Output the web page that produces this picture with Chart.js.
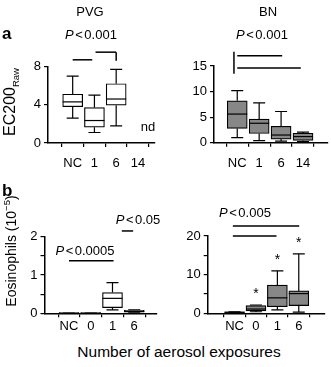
<!DOCTYPE html>
<html>
<head>
<meta charset="utf-8">
<script src="https://cdn.jsdelivr.net/npm/chart.js@4.4.1/dist/chart.umd.min.js"></script>
<style>
  body { margin: 0; background: #fff; font-family: Arial, "Liberation Sans", sans-serif; }
  #wrap { position: relative; width: 331px; height: 367px; overflow: hidden; }
  canvas { position: absolute; }
  .t { position: absolute; white-space: nowrap; transform: translate(-50%, -50%); color: #000; font-size: 13px; line-height: 1; }
  .rot { transform: translate(-50%, -50%) rotate(-90deg); }
  .lt { font-weight: bold; font-size: 17px; transform: none; }
  .lt2 { margin: 0 1.5px; }
  sub, sup { font-size: 9.5px; }
</style>
</head>
<body>
<div id="wrap">
  <canvas id="pvg" width="165" height="175" style="left:0;top:0"></canvas>
  <canvas id="bn" width="166" height="175" style="left:165px;top:0"></canvas>
  <canvas id="eosL" width="165" height="165" style="left:0;top:175px"></canvas>
  <canvas id="eosR" width="166" height="165" style="left:165px;top:175px"></canvas>

  <div class="t" style="left:90px;top:11px">PVG</div>
  <div class="t" style="left:268px;top:11px">BN</div>
  <div class="t lt" style="left:2px;top:25px">a</div>
  <div class="t lt" style="left:2px;top:182px">b</div>
  <div class="t" style="left:91px;top:34px"><i>P</i><span class="lt2">&lt;</span>0.001</div>
  <div class="t" style="left:262px;top:34px"><i>P</i><span class="lt2">&lt;</span>0.001</div>
  <div class="t" style="left:148px;top:126px">nd</div>
  <div class="t rot" style="left:11px;top:102px;font-size:16px">EC200<sub>Raw</sub></div>
  <div class="t rot" style="left:10px;top:251px;font-size:14px">Eosinophils (10<sup>&minus;5</sup>)</div>
  <div class="t" style="left:85px;top:250px"><i>P</i><span class="lt2">&lt;</span>0.0005</div>
  <div class="t" style="left:138px;top:219px"><i>P</i><span class="lt2">&lt;</span>0.05</div>
  <div class="t" style="left:245px;top:212px"><i>P</i><span class="lt2">&lt;</span>0.005</div>
  <div class="t" style="left:179px;top:352px;font-size:15.5px">Number of aerosol exposures</div>
</div>

<script>
/**************** DATA ****************/
const catsA = ["NC", "1", "6", "14"];
const catsB = ["NC", "0", "1", "6"];

// PVG, EC200 raw (14 exposures: nd)
const pvgMin = [2.6, 1.1, 1.8, null];
const pvgQ1  = [3.8, 1.65, 3.95, null];
const pvgMed = [4.3, 2.35, 4.6, null];
const pvgQ3  = [5.1, 3.7, 6.2, null];
const pvgMax = [7.0, 5.0, 7.7, null];

// BN, EC200 raw
const bnMin = [1.0, 0.4, 0.3, 0.2];
const bnQ1  = [2.8, 1.8, 0.7, 0.45];
const bnMed = [5.6, 3.8, 1.5, 1.2];
const bnQ3  = [8.2, 4.6, 3.2, 1.85];
const bnMax = [10.2, 7.8, 6.1, 2.05];

// PVG eosinophils (10^-5)
const eosLMin = [0, 0, 0.09, 0.01];
const eosLQ1  = [0, 0, 0.15, 0.03];
const eosLMed = [0.005, 0.005, 0.39, 0.05];
const eosLQ3  = [0.01, 0.01, 0.54, 0.08];
const eosLMax = [0.01, 0.015, 0.8, 0.09];

// BN eosinophils (10^-5)
const eosRMin = [0.1, 0.4, 0.9, 0.3];
const eosRQ1  = [0.2, 0.6, 1.7, 2.0];
const eosRMed = [0.25, 1.1, 4.0, 5.1];
const eosRQ3  = [0.35, 2.0, 7.3, 5.8];
const eosRMax = [0.4, 2.15, 11.0, 15.4];
const eosRStar = [null, 5.8, 14.6, 18.9];

// y ticks
const pvgTicks = [0, 4, 8];
const bnTicks = [0, 5, 10, 15];
const eosLTicks = [0, 0.5, 1, 1.5, 2];
const eosLLabels = [0, 1, 2];
const eosRTicks = [0, 5, 10, 15, 20];
const eosRLabels = [0, 10, 20];

// significance bars [x1, y1, x2, y2] in data units
const pvgSig = [[0, 8.7, 0.9, 8.7], [1.05, 9.5, 2, 9.5], [2, 9.5, 2, 8.6]];
const bnSig = [[0, 17, 2.05, 17], [0, 14.6, 2.9, 14.6], [-0.15, 17.8, -0.15, 13.5]];
const eosLSig = [[0, 1.37, 2.05, 1.37], [2.43, 2.15, 2.95, 2.15]];
const eosRSig = [[-0.08, 22.6, 3.02, 22.6], [-0.08, 20, 1.96, 20]];

/**************** HELPERS ****************/
function boxPlugin(st, sig, stars) {
  return {
    id: "boxExtras",
    beforeDatasetsDraw(chart) {
      const { ctx, scales: { x, y } } = chart;
      ctx.save();
      ctx.strokeStyle = "#000";
      ctx.lineWidth = 1.2;
      st.min.forEach((lo, i) => {
        if (lo == null) return;
        const px = x.getPixelForValue(i);
        [[st.q1[i], lo], [st.q3[i], st.max[i]]].forEach(([a, b]) => {
          const ya = y.getPixelForValue(a), yb = y.getPixelForValue(b);
          ctx.beginPath();
          ctx.moveTo(px, ya); ctx.lineTo(px, yb);
          ctx.moveTo(px - 6, yb); ctx.lineTo(px + 6, yb);
          ctx.stroke();
        });
      });
      ctx.restore();
    },
    afterDatasetsDraw(chart) {
      const { ctx, scales: { x, y } } = chart;
      ctx.save();
      ctx.strokeStyle = "#000";
      ctx.lineWidth = 1.2;
      st.med.forEach((m, i) => {
        if (m == null) return;
        const px = x.getPixelForValue(i), py = y.getPixelForValue(m);
        ctx.beginPath();
        ctx.moveTo(px - 10, py); ctx.lineTo(px + 10, py);
        ctx.stroke();
      });
      ctx.lineWidth = 1.5;
      sig.forEach(([x1, y1, x2, y2]) => {
        ctx.beginPath();
        ctx.moveTo(x.getPixelForValue(x1), y.getPixelForValue(y1));
        ctx.lineTo(x.getPixelForValue(x2), y.getPixelForValue(y2));
        ctx.stroke();
      });
      if (stars) {
        ctx.fillStyle = "#000";
        ctx.font = "14px Arial";
        ctx.textAlign = "center";
        ctx.textBaseline = "middle";
        stars.forEach((s, i) => {
          if (s == null) return;
          ctx.fillText("*", x.getPixelForValue(i), y.getPixelForValue(s) + 3);
        });
      }
      ctx.restore();
    }
  };
}

function makeBox(id, cfg) {
  const { cats, st, fill, yMax, yTicks, yLabels, xMin, xMax, yW, xH, pad, tickPad, sig, stars } = cfg;
  const data = [];
  cats.forEach((c, i) => {
    if (st.q1[i] == null) return;
    data.push({ x: i, y: [st.q1[i], st.q3[i]] });
  });
  const zeroPad = s => { s.paddingLeft = s.paddingRight = s.paddingTop = s.paddingBottom = 0; };
  return new Chart(document.getElementById(id), {
    type: "bar",
    data: {
      datasets: [{
        data,
        backgroundColor: fill,
        borderColor: "#000",
        borderWidth: 1.2,
        borderSkipped: false,
        barThickness: 20
      }]
    },
    options: {
      responsive: false,
      animation: false,
      devicePixelRatio: 1,
      layout: { padding: pad },
      plugins: { legend: { display: false }, tooltip: { enabled: false } },
      scales: {
        x: {
          type: "linear",
          min: xMin,
          max: xMax,
          afterBuildTicks: s => { s.ticks = cats.map((c, i) => ({ value: i })); },
          afterFit: s => { s.height = xH; zeroPad(s); },
          grid: { drawOnChartArea: false, drawTicks: true, tickLength: 4, color: "#000", lineWidth: 1.2 },
          border: { color: "#000", width: 1.5 },
          ticks: {
            callback: v => cats[v],
            color: "#000",
            font: { family: "Arial", size: 13 },
            padding: tickPad,
            maxRotation: 0,
            autoSkip: false
          }
        },
        y: {
          min: 0,
          max: yMax,
          afterBuildTicks: s => { s.ticks = yTicks.map(v => ({ value: v })); },
          afterFit: s => { s.width = yW; zeroPad(s); },
          grid: { drawOnChartArea: false, drawTicks: true, tickLength: 4, color: "#000", lineWidth: 1.2 },
          border: { color: "#000", width: 1.5 },
          ticks: {
            callback: v => (!yLabels || yLabels.includes(v)) ? String(v) : "",
            color: "#000",
            font: { family: "Arial", size: 13 },
            padding: 3,
            autoSkip: false
          }
        }
      }
    },
    plugins: [boxPlugin(st, sig, stars)]
  });
}

/**************** CHARTS ****************/
makeBox("pvg", {
  cats: catsA,
  st: { min: pvgMin, q1: pvgQ1, med: pvgMed, q3: pvgQ3, max: pvgMax },
  fill: "#fff", yMax: 8, yTicks: pvgTicks,
  xMin: -0.52, xMax: 3.17, yW: 48, xH: 32, tickPad: 9,
  pad: { left: 0, top: 66.5, right: 10, bottom: 0 },
  sig: pvgSig
});

makeBox("bn", {
  cats: catsA,
  st: { min: bnMin, q1: bnQ1, med: bnMed, q3: bnQ3, max: bnMax },
  fill: "#878787", yMax: 15, yTicks: bnTicks,
  xMin: -0.41, xMax: 3.49, yW: 49, xH: 32.3, tickPad: 9,
  pad: { left: 0, top: 66, right: 3, bottom: 0 },
  sig: bnSig
});

makeBox("eosL", {
  cats: catsB,
  st: { min: eosLMin, q1: eosLQ1, med: eosLMed, q3: eosLQ3, max: eosLMax },
  fill: "#fff", yMax: 2, yTicks: eosLTicks, yLabels: eosLLabels,
  xMin: -0.48, xMax: 3.4, yW: 44.5, xH: 26.7, tickPad: 1,
  pad: { left: 0, top: 61.7, right: 8, bottom: 0 },
  sig: eosLSig
});

makeBox("eosR", {
  cats: catsB,
  st: { min: eosRMin, q1: eosRQ1, med: eosRMed, q3: eosRQ3, max: eosRMax },
  fill: "#878787", yMax: 20, yTicks: eosRTicks, yLabels: eosRLabels,
  xMin: -0.57, xMax: 3.54, yW: 42.7, xH: 26.7, tickPad: 1,
  pad: { left: 0, top: 61, right: 6, bottom: 0 },
  sig: eosRSig, stars: eosRStar
});
</script>
</body>
</html>
